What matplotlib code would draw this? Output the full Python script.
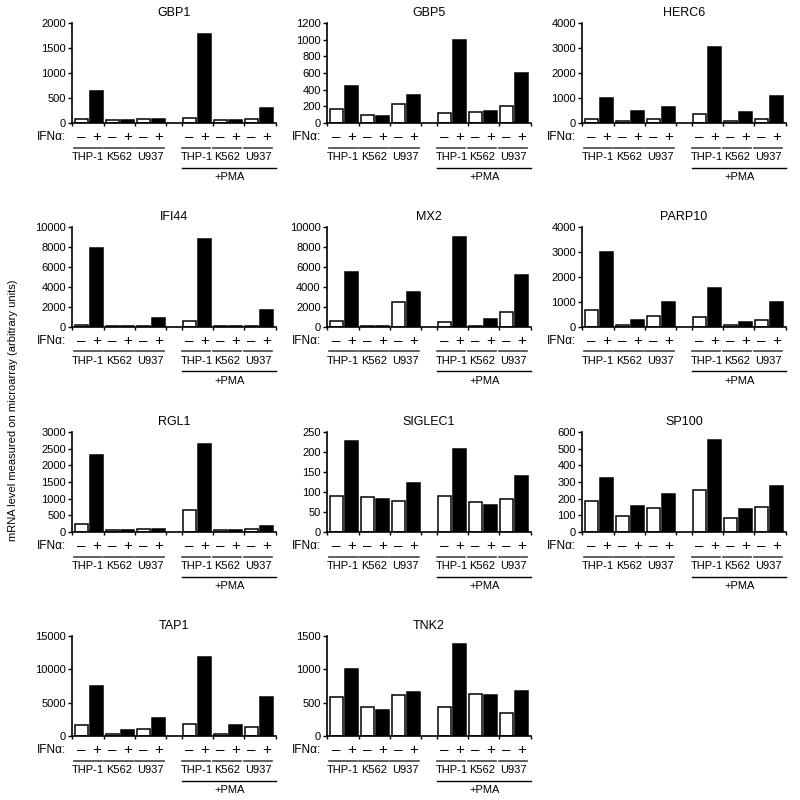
import numpy as np
import matplotlib
matplotlib.use("Agg")
import matplotlib.pyplot as plt
from matplotlib.transforms import blended_transform_factory

plt.rcParams['font.family'] = ['Liberation Sans', 'DejaVu Sans']

# cell lines, first three untreated, last three +PMA
cell_lines = ['THP-1', 'K562', 'U937', 'THP-1', 'K562', 'U937']
ifn_labels = ['\u2013', '+']

genes = ['GBP1', 'GBP5', 'HERC6', 'IFI44', 'MX2', 'PARP10',
         'RGL1', 'SIGLEC1', 'SP100', 'TAP1', 'TNK2']
y_max = [2000, 1200, 4000, 10000, 10000, 4000, 3000, 250, 600, 15000, 1500]
y_step = [500, 200, 1000, 2000, 2000, 1000, 500, 50, 100, 5000, 500]

# values per gene: pairs (- IFNa, + IFNa) for each of the 6 cell lines
gbp1 = [90, 650, 70, 70, 80, 75, 100, 1780, 70, 70, 75, 300]
gbp5 = [170, 450, 100, 85, 230, 340, 125, 990, 135, 140, 205, 600]
herc6 = [170, 1000, 80, 470, 180, 650, 370, 3050, 80, 440, 150, 1080]
ifi44 = [200, 7950, 80, 120, 80, 900, 550, 8850, 60, 60, 80, 1650]
mx2 = [550, 5550, 80, 80, 2500, 3500, 500, 9000, 80, 750, 1500, 5250]
parp10 = [680, 3000, 80, 260, 450, 1000, 380, 1550, 80, 200, 280, 980]
rgl1 = [240, 2300, 60, 50, 100, 90, 650, 2650, 70, 50, 100, 190]
siglec1 = [90, 228, 87, 82, 77, 123, 90, 207, 74, 68, 82, 141]
sp100 = [185, 325, 95, 155, 145, 228, 250, 550, 85, 140, 150, 275]
tap1 = [1600, 7500, 250, 900, 1000, 2700, 1800, 11800, 300, 1700, 1400, 5800]
tnk2 = [580, 1000, 440, 390, 620, 660, 440, 1380, 630, 610, 340, 670]
values = [gbp1, gbp5, herc6, ifi44, mx2, parp10, rgl1, siglec1, sp100, tap1, tnk2]

fig = plt.figure(figsize=(8, 8), dpi=100)

# bar slot positions (one empty slot between untreated and +PMA)
slots = []
for g in range(6):
    for k in range(2):
        slots.append(2 * g + k + (1 if g >= 3 else 0))
slots = np.array(slots)

col_x = [72, 327, 582]
row_bottom = [123, 327, 532, 736]
ax_w, ax_h = 204, 100

for i, gene in enumerate(genes):
    r, c = divmod(i, 3)
    left = col_x[c] / 800
    bottom = 1 - row_bottom[r] / 800
    ax = fig.add_axes([left, bottom, ax_w / 800, ax_h / 800])

    colors = ['white', 'black'] * 6
    ax.bar(slots, values[i], width=0.85, color=colors, edgecolor='black', linewidth=1.1)

    ax.set_xlim(-0.6, 12.6)
    ax.set_ylim(0, y_max[i])
    ax.set_yticks(np.arange(0, y_max[i] + 1, y_step[i]))
    ax.tick_params(axis='y', labelsize=8, length=3, width=1, pad=1.5)
    ax.set_xticks([])
    bounds = [-0.6, 1.5, 3.5, 5.5, 6.5, 8.5, 10.5, 12.6]
    ax.set_xticks(bounds, minor=True)
    ax.tick_params(axis='x', which='minor', length=2.5, width=1)
    for s in ['top', 'right']:
        ax.spines[s].set_visible(False)
    for s in ['left', 'bottom']:
        ax.spines[s].set_linewidth(1.2)
    ax.set_title(gene, fontsize=9, pad=5)

    tr = blended_transform_factory(ax.transData, ax.transAxes)
    ax.text(-0.03, -0.14, 'IFN\u03b1:', transform=ax.transAxes, ha='right',
            va='center', fontsize=8.5)
    for j, s in enumerate(slots):
        ax.text(s, -0.14, ifn_labels[j % 2], transform=tr, ha='center',
                va='center', fontsize=11)
    for g in range(6):
        s0 = slots[2 * g]
        ax.plot([s0 - 0.5, s0 + 1.35], [-0.245, -0.245], transform=tr,
                color='#444444', lw=1.2, clip_on=False)
        ax.text(s0 + 0.45, -0.34, cell_lines[g], transform=tr, ha='center',
                va='center', fontsize=8)
    ax.plot([slots[6] - 0.5, 12.6], [-0.445, -0.445], transform=tr,
            color='black', lw=1.0, clip_on=False)
    ax.text((slots[6] + 12.6) / 2 - 0.2, -0.54, '+PMA', transform=tr,
            ha='center', va='center', fontsize=8)

fig.text(0.016, 0.4875, 'mRNA level measured on microarray (arbitrary units)',
         rotation=90, ha='center', va='center', fontsize=8)

fig.savefig('out.png', dpi=100)
